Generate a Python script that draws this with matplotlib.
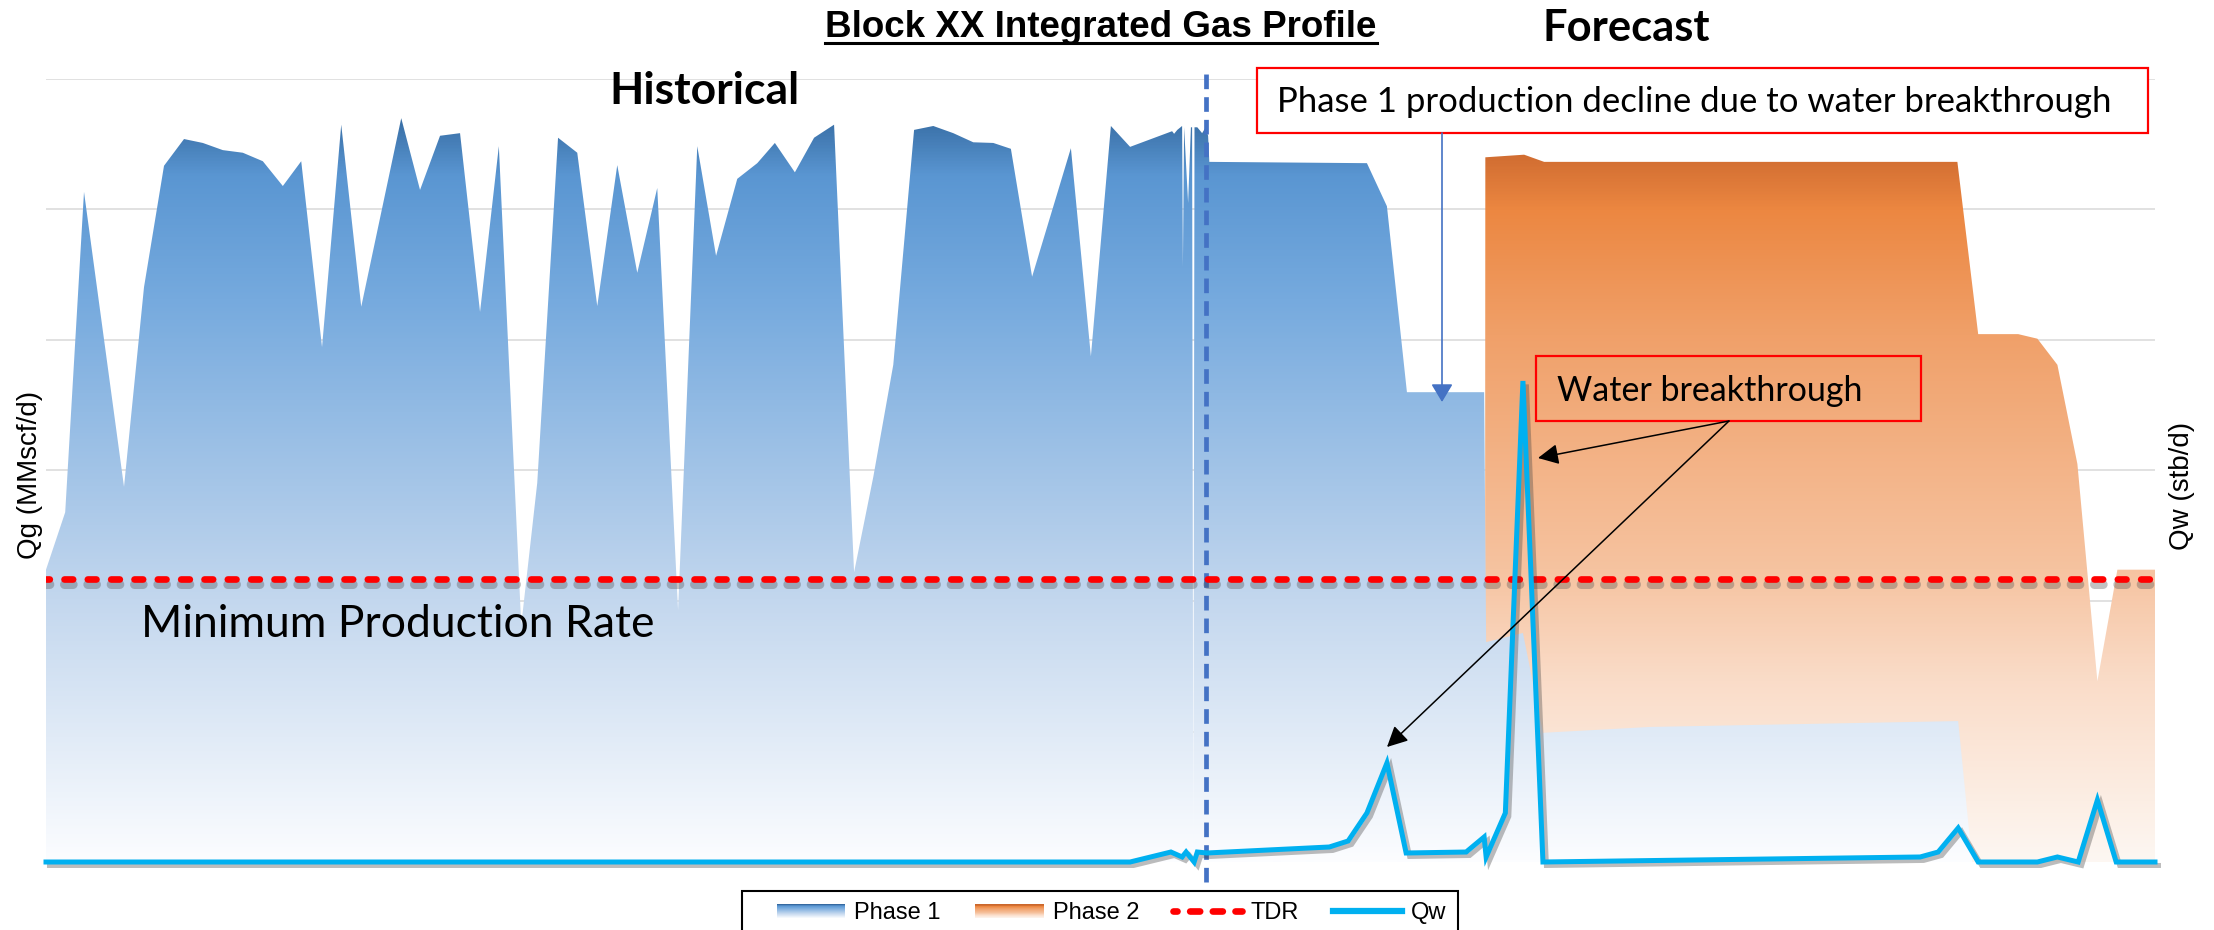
import numpy as np
import matplotlib
matplotlib.use('Agg')
import matplotlib.pyplot as plt
import matplotlib.patheffects as pe
from matplotlib.colors import LinearSegmentedColormap
from matplotlib.patches import Rectangle, FancyArrowPatch
from matplotlib.lines import Line2D
from matplotlib.legend_handler import HandlerBase

# ------------------ data (x = months from first gas)
phase1_month = [0, 2.4, 4.75, 9.75, 12.25, 14.75, 17.25, 19.6, 22.1, 24.6, 27.1, 29.6, 31.9,
                34.5, 36.9, 39.4, 44.4, 46.75, 49.25, 51.75, 54.25, 56.6, 59.4, 61.4, 64.0,
                66.4, 68.9, 71.4, 73.9, 76.4, 79.0, 81.4, 83.75, 86.4, 88.9, 91.1, 93.6, 96.0,
                98.5, 101.0, 103.4, 105.9, 108.5, 110.9, 113.4, 115.9, 118.4, 120.6, 123.25,
                128.1, 130.6, 133.1, 135.5, 140.75, 141.0, 141.4, 142.0, 142.1, 142.25, 142.75,
                143.1, 143.25, 143.4, 143.55, 143.9, 144.5, 144.9, 145.25, 145.4, 165.1, 167.6,
                170.1, 179.75, 180.0, 184.6, 187.1, 200.5, 239.0, 240.75]
phase1_qg = [44.8, 53.6, 102.7, 57.5, 88.1, 106.7, 110.8, 110.2, 109.1, 108.7, 107.4, 103.6, 107.4,
             78.9, 113.0, 85.1, 114.0, 103.0, 111.3, 111.7, 84.3, 109.7, 36.3, 58.1, 111.0,
             108.7, 85.2, 106.8, 90.3, 103.3, 38.6, 109.7, 92.9, 104.7, 107.1, 110.2, 105.7, 111.0,
             113.0, 44.4, 59.0, 76.2, 112.2, 112.8, 111.7, 110.3, 110.2, 109.3, 89.7,
             109.4, 77.5, 112.8, 109.6, 112.0, 111.6, 112.2, 112.8, 91.2, 112.6, 101.0,
             112.6, 112.6, 0.0, 112.6, 112.6, 111.7, 112.5, 111.3, 107.3, 107.1, 100.5,
             72.0, 72.0, 33.7, 35.1, 19.8, 20.7, 21.6, 0.0]

phase2_month = [179.85, 179.9, 184.75, 187.25, 238.9, 241.5, 246.5, 248.9, 251.4, 253.9,
                256.4, 258.9, 263.6]
phase2_qg = [0.0, 108.0, 108.4, 107.3, 107.3, 80.9, 80.9, 80.2, 76.2, 61.0, 27.7, 44.8, 44.8]

qw_month = [0, 135.5, 140.6, 142.0, 142.5, 143.5, 143.9, 145.1, 160.4, 162.75, 165.1, 167.6,
            170.0, 177.5, 179.75, 180.0, 182.4, 184.6, 187.1, 234.25, 236.5, 239.0, 241.5,
            248.9, 251.4, 254.0, 256.4, 258.75, 263.6]
qw_rate = [0, 0, 15.3, 7.7, 15.3, 0, 15.3, 13.8, 23.0, 32.2, 75.1, 151.7,
           13.8, 15.3, 38.3, 7.7, 75.1, 737.2, 0, 7.7, 15.3, 52.1, 0,
           0, 7.7, 0, 95.0, 0, 0]

tdr_qg = 43.4
forecast_start = 145.0
x_end = 263.6
qg_max = 120
qw_max = 1200

# ------------------
W, H = 2214, 930

def fxy(x, y):
  # pixel from top-left -> figure fraction
  return (x / W, 1 - y / H)

cmap_p1 = LinearSegmentedColormap.from_list('p1', [(0, '#FCFDFF'), (0.335, '#C3D7EE'), (0.718, '#76AADE'),
                                                   (0.877, '#5A96D2'), (0.95, '#386EA5'), (1, '#32649B')])
cmap_p2 = LinearSegmentedColormap.from_list('p2', [(0, '#FDF7F2'), (0.231, '#FADCC8'), (0.373, '#F6C3A0'),
                                                   (0.674, '#F0A069'), (0.833, '#EC8741'), (0.90, '#D26E32'),
                                                   (1, '#C86428')])

fig = plt.figure(figsize=(W / 100, H / 100), dpi=100)
ax = fig.add_axes([46 / W, 1 - 862 / H, (2155 - 46) / W, (862 - 79) / H])
ax2 = ax.twinx()

def gradient_area(ax, x, y, cmap, z):
  '''
  area under x/y filled with a vertical gradient
  '''
  poly = ax.fill_between(x, 0, y, facecolor='none', edgecolor='none')
  grad = np.linspace(0, 1, 512).reshape(-1, 1)
  im = ax.imshow(grad, cmap=cmap, aspect='auto', origin='lower', interpolation='bilinear',
                 extent=[0, x_end, 0, qg_max], zorder=z)
  im.set_clip_path(poly.get_paths()[0], transform=ax.transData)

gradient_area(ax, phase2_month, phase2_qg, cmap_p2, 1)
gradient_area(ax, phase1_month, phase1_qg, cmap_p1, 1.2)

ax.set_xlim(0, x_end)
ax.set_ylim(0, qg_max)
ax.set_yticks(np.arange(0, qg_max + 1, 20))
ax.set_xticks([])
ax.grid(axis='y', color='#D9D9D9', lw=1.1)
ax.set_axisbelow(True)
ax.tick_params(length=0, labelleft=False)

shadow = [pe.SimpleLineShadow(offset=(0, -4), shadow_color='#505050', alpha=0.35, linewidth=6.5), pe.Normal()]
ax.axhline(tdr_qg, color='#FF0000', lw=4.8, linestyle=(0.8, (1.3, 2.2)), dash_capstyle='round',
           zorder=3, path_effects=shadow)
ax.axvline(forecast_start, ymin=-0.026, ymax=1.014, color='#4472C4', lw=3.4,
           linestyle=(0, (3.1, 1.7)), clip_on=False, zorder=2.5)

ax2.plot(qw_month, qw_rate, color='#00B0F0', lw=3.6, clip_on=False, solid_joinstyle='miter',
         path_effects=[pe.SimpleLineShadow(offset=(2.5, -2.5), shadow_color='#404040', alpha=0.35),
                       pe.Normal()])
ax2.set_ylim(0, qw_max)
ax2.set_yticks([])
for a in (ax, ax2):
  for s in a.spines.values():
    s.set_visible(False)

# ------------------ texts
t = fig.text(*fxy(1101, 37), 'Block XX Integrated Gas Profile', ha='center', va='baseline',
             fontsize=26.5, fontweight='bold', family='Liberation Sans')
fig.text(*fxy(704, 104), 'Historical', ha='center', va='baseline', fontsize=32, fontweight='bold', family='Lato')
fig.text(*fxy(1626, 41), 'Forecast', ha='center', va='baseline', fontsize=31.3, fontweight='bold', family='Lato')
fig.text(*fxy(141, 637), 'Minimum Production Rate', va='baseline', fontsize=32, family='Lato')
fig.text(*fxy(30, 475), 'Qg (MMscf/d)', rotation=90, ha='center', va='center', fontsize=20,
         family='Liberation Sans')
fig.text(*fxy(2182, 486), 'Qw (stb/d)', rotation=90, ha='center', va='center', fontsize=20,
         family='Liberation Sans')

fig.add_artist(Rectangle(fxy(1257, 133), (2148 - 1257) / W, (133 - 68) / H, transform=fig.transFigure,
                         facecolor='white', edgecolor='#FF0000', lw=1.6, zorder=4))
fig.text(*fxy(1277, 112), 'Phase 1 production decline due to water breakthrough', va='baseline',
         fontsize=25, family='Lato', zorder=5)
fig.add_artist(FancyArrowPatch(fxy(1442, 133), fxy(1442, 402), transform=fig.transFigure,
                               arrowstyle='-|>,head_length=0.5,head_width=0.3', mutation_scale=22,
                               color='#4472C4', lw=1.2, shrinkA=0, shrinkB=0, zorder=4))

fig.add_artist(Rectangle(fxy(1536, 421), (1921 - 1536) / W, (421 - 356) / H, transform=fig.transFigure,
                         fill=False, edgecolor='#FF0000', lw=1.6, zorder=4))
fig.text(*fxy(1557, 401), 'Water breakthrough', va='baseline', fontsize=24.5, family='Lato', zorder=5)
for tip in [(1538, 458), (1387, 747)]:
  fig.add_artist(FancyArrowPatch(fxy(1729, 421), fxy(*tip), transform=fig.transFigure,
                                 arrowstyle='-|>,head_length=0.5,head_width=0.25', mutation_scale=25,
                                 color='black', lw=1.1, shrinkA=0, shrinkB=0, zorder=4))

# ------------------ legend
class GradientHandle(object):
  def __init__(self, cmap):
    self.cmap = cmap

class HandlerGradient(HandlerBase):
  def create_artists(self, legend, orig_handle, xdescent, ydescent, width, height, fontsize, trans):
    n = 14
    arts = []
    for i in range(n):
      c = orig_handle.cmap(0.97 - 0.92 * i / (n - 1))
      arts.append(Rectangle((-xdescent, -ydescent + height * (1 - (i + 1) / n)), width, height / n,
                            facecolor=c, edgecolor='none', transform=trans))
    return arts

handles = [GradientHandle(cmap_p1), GradientHandle(cmap_p2),
           Line2D([], [], color='#FF0000', lw=4.8, linestyle=(0.9, (1.5, 1.9)), dash_capstyle='round'),
           Line2D([], [], color='#00B0F0', lw=4.5)]
labels = ['Phase 1', 'Phase 2', 'TDR', 'Qw']
fig.legend(handles, labels, handler_map={GradientHandle: HandlerGradient()}, loc='center left',
           bbox_to_anchor=fxy(777, 913), ncol=4, frameon=False, borderpad=0, borderaxespad=0,
           prop={'family': 'Liberation Sans', 'size': 17}, handlelength=2.9, handleheight=0.55,
           handletextpad=0.38, columnspacing=1.45)
fig.add_artist(Rectangle(fxy(742, 945), (1458 - 742) / W, (945 - 891) / H, transform=fig.transFigure,
                         fill=False, edgecolor='black', lw=1.5, zorder=4))

# underline for the title
fig.canvas.draw()
bb = t.get_window_extent()
fig.add_artist(Line2D([bb.x0 / W, bb.x1 / W], [1 - 43.5 / H] * 2, transform=fig.transFigure,
                      color='black', lw=2.2))

fig.savefig('out.png', dpi=100)
